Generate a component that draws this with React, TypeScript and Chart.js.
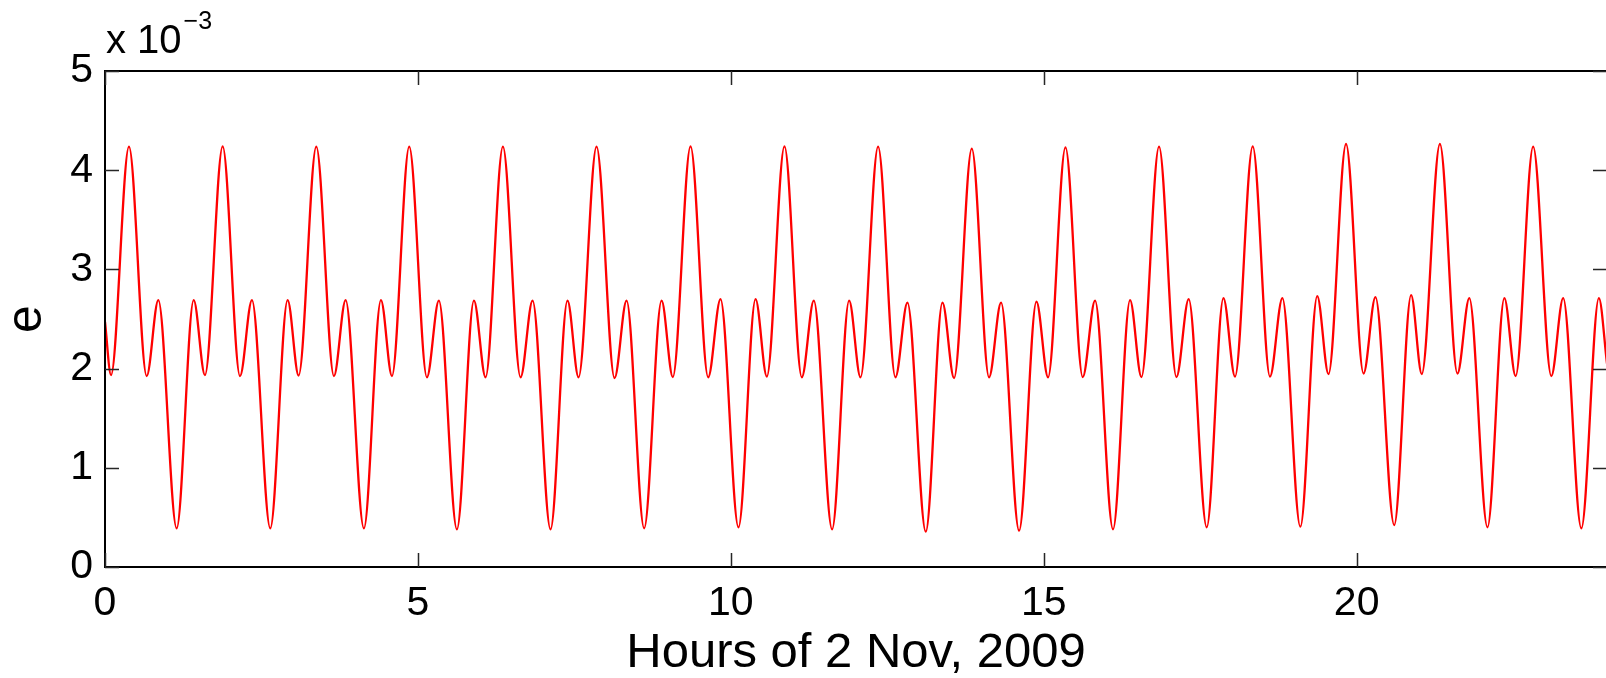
import React, { useEffect, useRef } from "react";
import { Chart, registerables } from "chart.js";

Chart.register(...registerables);

// Hours of 2 Nov 2009 (turning points of the curve)
const hours = [
  0.0, 0.096, 0.383, 0.666, 0.852, 1.145, 1.417, 1.597,
  1.88, 2.157, 2.348, 2.641, 2.918, 3.094,
  3.376, 3.658, 3.845, 4.137, 4.409, 4.585,
  4.861, 5.144, 5.335, 5.623, 5.895, 6.081,
  6.358, 6.64, 6.832, 7.119, 7.39, 7.567,
  7.854, 8.142, 8.334, 8.615, 8.893, 9.073,
  9.356, 9.638, 9.835, 10.122, 10.395, 10.575,
  10.857, 11.134, 11.326, 11.618, 11.89, 12.072,
  12.353, 12.63, 12.822, 13.115, 13.381, 13.567,
  13.85, 14.126, 14.318, 14.606, 14.883, 15.069,
  15.347, 15.623, 15.82, 16.107, 16.379, 16.561,
  16.842, 17.12, 17.316, 17.604, 17.871, 18.056,
  18.339, 18.615, 18.813, 19.1, 19.37, 19.55,
  19.83, 20.11, 20.3, 20.6, 20.87, 21.04,
  21.33, 21.61, 21.8, 22.09, 22.36, 22.54,
  22.82, 23.11, 23.3, 23.59, 23.87, 24.0,
];

// e values in units of 10^-3
const eValues = [
  2.47, 1.935, 4.237, 1.925, 2.69, 0.39, 2.69, 1.935,
  4.24, 1.925, 2.69, 0.39, 2.69, 1.93,
  4.237, 1.925, 2.69, 0.39, 2.69, 1.925,
  4.237, 1.912, 2.685, 0.38, 2.685, 1.912,
  4.237, 1.912, 2.685, 0.38, 2.685, 1.912,
  4.237, 1.905, 2.685, 0.39, 2.685, 1.915,
  4.24, 1.912, 2.7, 0.4, 2.7, 1.92,
  4.24, 1.912, 2.685, 0.38, 2.685, 1.912,
  4.237, 1.912, 2.665, 0.356, 2.665, 1.905,
  4.217, 1.912, 2.665, 0.366, 2.675, 1.912,
  4.23, 1.915, 2.685, 0.38, 2.69, 1.915,
  4.237, 1.915, 2.7, 0.4, 2.71, 1.92,
  4.24, 1.92, 2.71, 0.406, 2.73, 1.945,
  4.264, 1.95, 2.72, 0.423, 2.74, 1.945,
  4.264, 1.95, 2.71, 0.4, 2.71, 1.925,
  4.237, 1.925, 2.71, 0.39, 2.71, 2.05,
];

const xTicks = [0, 5, 10, 15, 20];
const yTicks = [0, 1, 2, 3, 4, 5];
const xRange = [0, 24];
const yRange = [0, 5];
const xTitle = "Hours of 2 Nov, 2009";
const yTitle = "e";
const multiplierBase = "x 10";
const multiplierPower = "\u22123";

const FONT = "'Liberation Sans', Arial, Helvetica, sans-serif";

const framePlugin = {
  id: "matlabFrame",
  afterDatasetsDraw(chart: any) {
    const { ctx, chartArea, scales } = chart;
    const { left, right, top, bottom } = chartArea;
    const xs = scales.x;
    const ys = scales.y;
    ctx.save();
    ctx.strokeStyle = "#000";
    ctx.lineWidth = 2;
    ctx.strokeRect(left, top, right - left, bottom - top);

    const len = 14;
    ctx.strokeStyle = "#262626";
    ctx.lineWidth = 1.5;
    ctx.beginPath();
    xs.ticks.forEach((t: any) => {
      const px = Math.round(xs.getPixelForValue(t.value)) + 0.5;
      ctx.moveTo(px, bottom);
      ctx.lineTo(px, bottom - len);
      ctx.moveTo(px, top);
      ctx.lineTo(px, top + len);
    });
    ys.ticks.forEach((t: any) => {
      const py = Math.round(ys.getPixelForValue(t.value)) + 0.5;
      ctx.moveTo(left, py);
      ctx.lineTo(left + len, py);
      ctx.moveTo(right, py);
      ctx.lineTo(right - len, py);
    });
    ctx.stroke();

    ctx.fillStyle = "#000";
    ctx.textBaseline = "alphabetic";
    ctx.textAlign = "left";
    ctx.font = `40px ${FONT}`;
    ctx.fillText(multiplierBase, left + 1, 53);
    const w = ctx.measureText(multiplierBase).width;
    ctx.font = `25px ${FONT}`;
    ctx.fillText(multiplierPower, left + w + 3, 29);
    ctx.restore();
  },
};

export default function App() {
  const canvasRef = useRef<HTMLCanvasElement | null>(null);

  useEffect(() => {
    const canvas = canvasRef.current;
    if (!canvas) return;
    Chart.defaults.font.family = FONT;
    const data = hours.map((h, i) => ({ x: h, y: eValues[i] }));
    const chart = new Chart(canvas, {
      type: "line",
      data: {
        datasets: [
          {
            data,
            borderColor: "#ff0000",
            borderWidth: 2.3,
            pointRadius: 0,
            fill: false,
            cubicInterpolationMode: "monotone",
          },
        ],
      },
      options: {
        animation: false,
        responsive: false,
        devicePixelRatio: 1,
        layout: { padding: { top: 71, right: 5, left: 0, bottom: 0 } },
        plugins: { legend: { display: false }, tooltip: { enabled: false } },
        scales: {
          x: {
            type: "linear",
            min: xRange[0],
            max: xRange[1],
            grid: { display: false, drawTicks: false },
            border: { display: false },
            afterBuildTicks: (axis: any) => {
              axis.ticks = xTicks.map((v) => ({ value: v }));
            },
            afterFit: (scale: any) => {
              scale.height = 111;
            },
            ticks: {
              color: "#000",
              font: { size: 41, family: FONT },
              padding: 12,
              maxRotation: 0,
              autoSkip: false,
            },
            title: {
              display: true,
              text: xTitle,
              color: "#000",
              font: { size: 49, family: FONT, lineHeight: 1 },
              padding: { top: 0, bottom: 0 },
            },
          },
          y: {
            type: "linear",
            min: yRange[0],
            max: yRange[1],
            grid: { display: false, drawTicks: false },
            border: { display: false },
            afterBuildTicks: (axis: any) => {
              axis.ticks = yTicks.map((v) => ({ value: v }));
            },
            afterFit: (scale: any) => {
              scale.width = 105;
            },
            ticks: {
              color: "#000",
              font: { size: 41, family: FONT },
              padding: 12,
              autoSkip: false,
            },
            title: {
              display: true,
              text: yTitle,
              color: "#000",
              font: { size: 50, family: FONT, lineHeight: 1 },
              padding: { top: 2, bottom: 0 },
            },
          },
        },
      },
      plugins: [framePlugin],
    });
    return () => chart.destroy();
  }, []);

  return (
    <div
      style={{
        position: "fixed",
        left: 0,
        top: 0,
        width: 1606,
        height: 678,
        overflow: "hidden",
        background: "#fff",
      }}
    >
      <canvas ref={canvasRef} width={1612} height={678} style={{ width: 1612, height: 678, display: "block" }} />
    </div>
  );
}
